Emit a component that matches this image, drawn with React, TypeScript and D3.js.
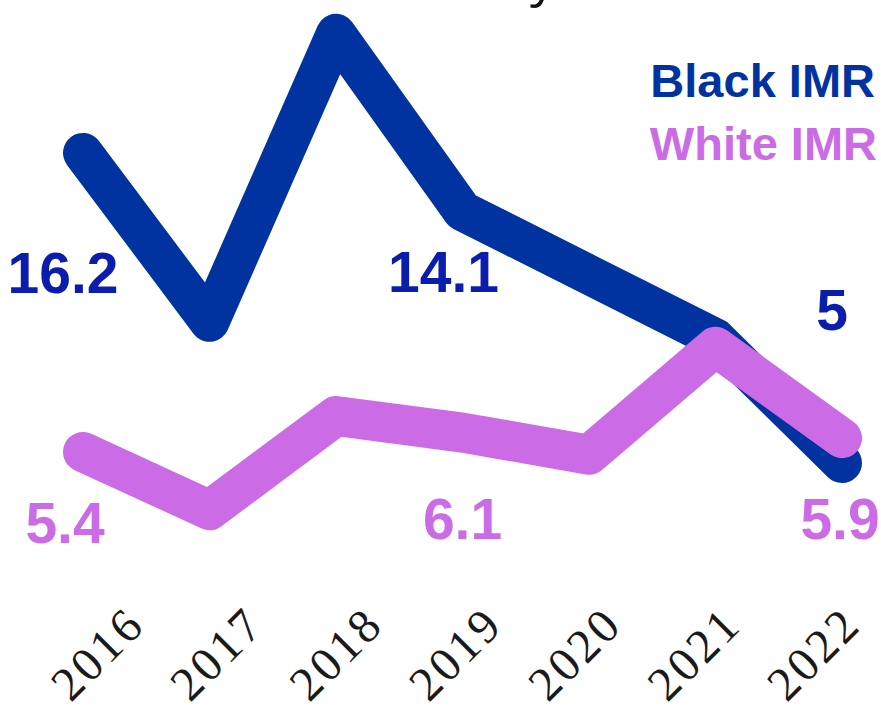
import React from "react";
import * as d3 from "d3";

const years = ["2016", "2017", "2018", "2019", "2020", "2021", "2022"];
const blackIMR = [16.2, 10.1, 20.5, 14.1, 11.8, 9.5, 5.0];
const whiteIMR = [5.4, 3.3, 6.7, 6.1, 5.3, 9.2, 5.9];
const blackLabelYears = ["2016", "2019", "2022"];
const blackLabelTexts = ["16.2", "14.1", "5"];
const whiteLabelYears = ["2016", "2019", "2022"];
const whiteLabelTexts = ["5.4", "6.1", "5.9"];
const seriesNames = ["Black IMR", "White IMR"];
const titleText = "County";

const W = 881;
const H = 717;
const BLACK = "#0033a0";
const BLACK_TXT = "#0b1dad";
const WHITE = "#cb6ce6";

// label placement (pixel offsets from the data point)
const blackLabelPos = [
  { dx: -20, y: 293 },
  { dx: -19, y: 292 },
  { dx: -10, y: 330 },
];
const whiteLabelPos = [
  { dx: -18, y: 543 },
  { dx: 0, y: 539 },
  { dx: -2, y: 539 },
];

export default function App() {
  const x = d3.scalePoint<string>().domain(years).range([83, 842]);
  const xLab = d3.scalePoint<string>().domain(years).range([147, 863]);
  const y = d3.scaleLinear().domain([0, 20]).range([601.5, 47.7]);

  const line = d3
    .line<number>()
    .x((_, i) => x(years[i]) as number)
    .y((d) => y(d));

  const numFont = "'Liberation Sans', Arial, sans-serif";

  return (
    <svg
      width={W}
      height={H}
      style={{ position: "absolute", left: 0, top: 0, background: "#fff" }}
    >
      <text
        x={556}
        y={-4}
        textAnchor="end"
        fontFamily="'Open Sans', sans-serif"
        fontSize={52}
        fill="#111"
      >
        {titleText}
      </text>

      <path
        d={line(blackIMR) || ""}
        fill="none"
        stroke={BLACK}
        strokeWidth={40}
        strokeLinejoin="round"
        strokeLinecap="round"
      />
      <path
        d={line(whiteIMR) || ""}
        fill="none"
        stroke={WHITE}
        strokeWidth={40}
        strokeLinejoin="round"
        strokeLinecap="round"
      />

      {blackLabelYears.map((yr, i) => (
        <text
          key={"b" + yr}
          x={(x(yr) as number) + blackLabelPos[i].dx}
          y={blackLabelPos[i].y}
          textAnchor="middle"
          fontFamily={numFont}
          fontWeight="bold"
          fontSize={57}
          fill={BLACK_TXT}
        >
          {blackLabelTexts[i]}
        </text>
      ))}
      {whiteLabelYears.map((yr, i) => (
        <text
          key={"w" + yr}
          x={(x(yr) as number) + whiteLabelPos[i].dx}
          y={whiteLabelPos[i].y}
          textAnchor="middle"
          fontFamily={numFont}
          fontWeight="bold"
          fontSize={57}
          fill={WHITE}
        >
          {whiteLabelTexts[i]}
        </text>
      ))}

      <text
        x={875}
        y={97}
        textAnchor="end"
        fontFamily={numFont}
        fontWeight="bold"
        fontSize={47}
        fill={BLACK}
      >
        {seriesNames[0]}
      </text>
      <text
        x={877}
        y={160}
        textAnchor="end"
        fontFamily={numFont}
        fontWeight="bold"
        fontSize={47}
        fill={WHITE}
      >
        {seriesNames[1]}
      </text>

      {years.map((yr) => (
        <text
          key={"t" + yr}
          transform={`translate(${xLab(yr)},627) rotate(-45)`}
          textAnchor="end"
          fontFamily="'Liberation Serif', serif"
          fontSize={48}
          letterSpacing={3}
          fill="#1a1a1a"
        >
          {yr}
        </text>
      ))}
    </svg>
  );
}
